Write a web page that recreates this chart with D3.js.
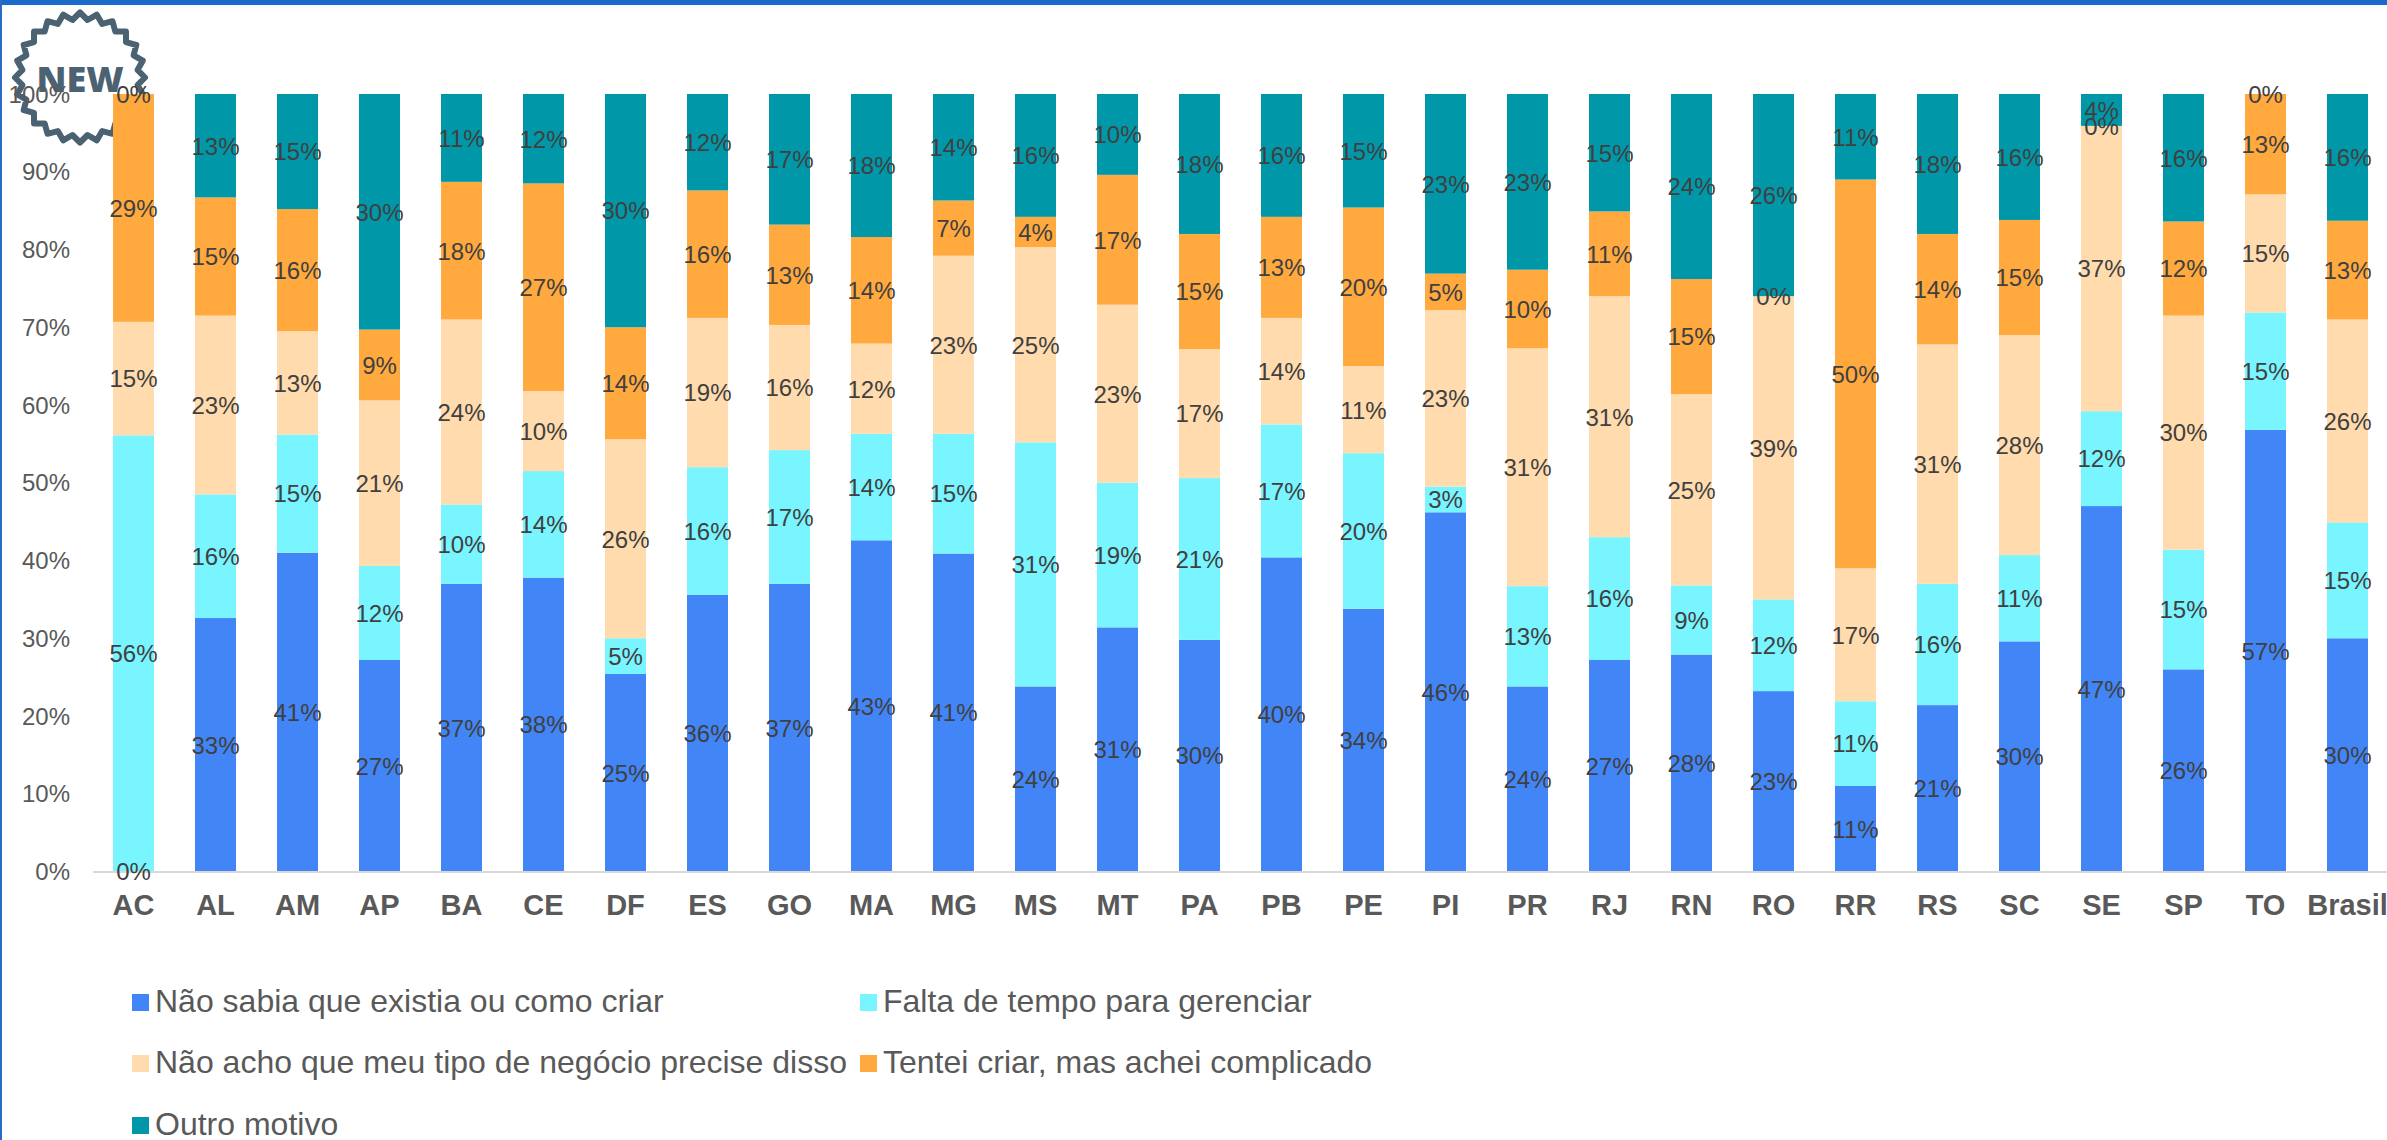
<!DOCTYPE html>
<html><head><meta charset="utf-8">
<script src="https://cdn.jsdelivr.net/npm/d3@7/dist/d3.min.js"></script>
<style>html,body{margin:0;padding:0;background:#fff}svg{display:block}text{font-family:"Liberation Sans",Arial,sans-serif}</style>
</head><body><svg id="c" width="2387" height="1140"></svg>
<script>
const categories = ["AC","AL","AM","AP","BA","CE","DF","ES","GO","MA","MG","MS","MT","PA","PB","PE","PI","PR","RJ","RN","RO","RR","RS","SC","SE","SP","TO","Brasil"];
const seriesNames = ["Não sabia que existia ou como criar","Falta de tempo para gerenciar","Não acho que meu tipo de negócio precise disso","Tentei criar, mas achei complicado","Outro motivo"];
const naoSabia =   [0,32.6,41,27.2,37,37.8,25.4,35.6,37,42.6,40.9,23.8,31.4,29.8,40.4,33.8,46.2,23.8,27.2,27.9,23.2,11,21.4,29.6,47,26,56.8,30];
const faltaTempo = [56.1,15.9,15.2,12.1,10.2,13.7,4.6,16.4,17.2,13.7,15.4,31.4,18.6,20.8,17.1,20,3.3,12.9,15.8,8.9,11.8,10.9,15.6,11.1,12.2,15.4,15.1,14.9];
const naoAcho =    [14.6,23,13.3,21.3,23.8,10.3,25.6,19.2,16.1,11.6,22.9,25.1,22.9,16.6,13.7,11.2,22.7,30.6,31,24.6,39,17.1,30.8,28.3,36.7,30.1,15.2,26.1];
const tentei =     [29.3,15.2,15.7,9.1,17.7,26.7,14.4,16.4,12.9,13.7,7.1,3.9,16.7,14.8,13,20.4,4.7,10.1,10.9,14.8,0,50,14.2,14.8,0,12.1,12.9,12.7];
const outro =      [0,13.3,14.8,30.3,11.3,11.5,30,12.4,16.8,18.4,13.7,15.8,10.4,18,15.8,14.6,23.1,22.6,15.1,23.8,26,11,18,16.2,4.1,16.4,0,16.3];
const seriesValues = [naoSabia,faltaTempo,naoAcho,tentei,outro];
const colors = ["#4285F6","#78F5FF","#FFDBAE","#FFA93F","#0098A8"];
const yTicks = [0,10,20,30,40,50,60,70,80,90,100];

const svg = d3.select("#c");
svg.append("rect").attr("width",2387).attr("height",5).attr("fill","#1A6ACB");
svg.append("rect").attr("width",2).attr("height",1140).attr("fill","#2A6CC4");

const x = d3.scaleBand().domain(categories).range([92.5,2388.5]).paddingInner(0.5).paddingOuter(0.25);
const y = d3.scaleLinear().domain([0,100]).range([871.5,94]);

// NEW badge
const badge = svg.append("g").attr("transform","translate(80,77.5)");
const pts = d3.range(48).map(i=>{const a=i/48*2*Math.PI, r=i%2?58:65;return [r*Math.sin(a),-r*Math.cos(a)];});
badge.append("path").attr("d",d3.line().curve(d3.curveLinearClosed)(pts)).attr("fill","#fff").attr("stroke","#4A6272").attr("stroke-width",6).attr("stroke-linejoin","round");
badge.append("text").attr("y",14).attr("text-anchor","middle").attr("font-size",36).attr("fill","#4A6272").attr("style","font-family:'Open Sans';font-weight:800").text("NEW");

// y axis labels
const yAxis = d3.axisLeft(y).tickValues(yTicks).tickFormat(d=>d+"%").tickSize(0).tickPadding(0);
const gy = svg.append("g").attr("transform","translate(70,0.5)").call(yAxis);
gy.select(".domain").remove();
gy.selectAll("text").attr("font-size",24).attr("fill","#595959").style("font-family","'Liberation Sans'");

// bars
const stack = d3.stack().keys(d3.range(5)).value((d,k)=>seriesValues[k][d]);
const layers = stack(d3.range(categories.length));
const g = svg.append("g");
g.selectAll("g").data(layers).join("g").attr("fill",(d,i)=>colors[i])
 .selectAll("rect").data(d=>d).join("rect")
 .attr("x",(d,i)=>x(categories[i])).attr("width",x.bandwidth())
 .attr("y",d=>y(d[1])).attr("height",d=>y(d[0])-y(d[1]));

// x axis
const xAxis = d3.axisBottom(x).tickSize(0).tickPadding(0);
const gx = svg.append("g").attr("transform","translate(0,871.5)").call(xAxis);
gx.select(".domain").attr("stroke","#D9D9D9").attr("stroke-width",2);
gx.selectAll("text").attr("font-size",29).attr("font-weight",700).attr("fill","#595959").attr("y",23).style("font-family","'Liberation Sans'");

// data labels
const lab = svg.append("g");
layers.forEach((layer,s)=>{
  lab.selectAll(null).data(layer).join("text")
   .attr("x",(d,i)=>x(categories[i])+x.bandwidth()/2)
   .attr("y",d=>y((d[0]+d[1])/2)+2.5)
   .attr("text-anchor","middle").attr("dominant-baseline","middle")
   .attr("font-size",24).attr("fill","#404040")
   .text((d,i)=>Math.round(seriesValues[s][i])+"%")
   .attr("display",(d,i)=>{
     const v=seriesValues[s][i]; if(v!==0) return null;
     const shown={0:[0],3:[20,24],4:[0,26]};
     return (shown[s]||[]).includes(i)?null:"none";});
});

// legend
const legendPos = [[132,994],[860,994],[132,1055],[860,1055],[132,1117]];
const leg = svg.append("g").selectAll("g").data(seriesNames).join("g")
 .attr("transform",(d,i)=>`translate(${legendPos[i][0]},${legendPos[i][1]})`);
leg.append("rect").attr("width",17).attr("height",17).attr("fill",(d,i)=>colors[i]);
leg.append("text").attr("x",23).attr("y",18).attr("font-size",32).attr("fill","#595959").text(d=>d);
</script></body></html>
